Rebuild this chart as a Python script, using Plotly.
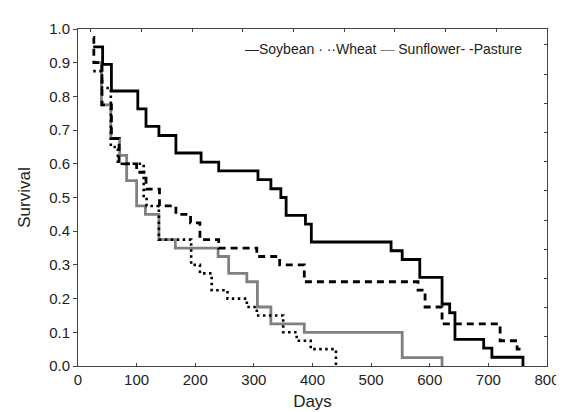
import plotly.graph_objects as go

# ---- data ----
soy_days = [26, 42, 57, 102, 116, 138, 167, 210, 240, 307, 329, 346, 355, 388, 398, 534, 553, 583, 621, 634, 643, 692, 706, 759]
soy_surv = [0.947, 0.895, 0.816, 0.763, 0.711, 0.684, 0.632, 0.605, 0.579, 0.553, 0.526, 0.500, 0.447, 0.421, 0.368, 0.342, 0.316, 0.263, 0.184, 0.158, 0.079, 0.053, 0.026, 0.0]

wheat_days = [26, 41, 56, 68, 112, 117, 138, 193, 208, 228, 255, 288, 305, 350, 373, 397, 440]
wheat_surv = [0.875, 0.825, 0.65, 0.6, 0.5, 0.475, 0.375, 0.3, 0.275, 0.225, 0.2, 0.175, 0.15, 0.1, 0.075, 0.05, 0.0]

sun_days = [26, 40, 56, 71, 83, 100, 115, 138, 166, 239, 257, 288, 306, 329, 386, 553, 621]
sun_surv = [0.9, 0.775, 0.675, 0.625, 0.55, 0.475, 0.45, 0.375, 0.35, 0.325, 0.275, 0.25, 0.175, 0.125, 0.1, 0.025, 0.0]

pas_days = [26, 27, 41, 57, 70, 100, 116, 139, 167, 192, 208, 240, 305, 344, 386, 580, 592, 621, 720, 749, 759]
pas_surv = [0.975, 0.9, 0.775, 0.675, 0.6, 0.575, 0.525, 0.475, 0.45, 0.425, 0.375, 0.35, 0.325, 0.3, 0.25, 0.225, 0.175, 0.125, 0.075, 0.05, 0.05]

x_ticks = [0, 100, 200, 300, 400, 500, 600, 700, 800]
y_ticks = [0.0, 0.1, 0.2, 0.3, 0.4, 0.5, 0.6, 0.7, 0.8, 0.9, 1.0]
# unlabeled tick marks on the top and right frame edges (as in the reference)
top_ticks = [21.7 + 86.5 * k for k in range(10)]
right_ticks = [0.0866 * k for k in range(12)]
legend_text = ("—Soybean · ··Wheat <span style='color:#808080'>—</span> Sunflower- -Pasture")

FONT = "Arial, Liberation Sans, sans-serif"
AX = "#444"

fig = go.Figure()
fig.add_trace(go.Scatter(x=sun_days, y=sun_surv, mode="lines", line_shape="hv", name="Sunflower",
                         line=dict(color="#808080", width=2.8)))
fig.add_trace(go.Scatter(x=wheat_days, y=wheat_surv, mode="lines", line_shape="hv", name="Wheat",
                         line=dict(color="black", width=2.6, dash="2.5px,3.5px")))
fig.add_trace(go.Scatter(x=pas_days, y=pas_surv, mode="lines", line_shape="hv", name="Pasture",
                         line=dict(color="black", width=2.8, dash="7px,5px")))
fig.add_trace(go.Scatter(x=soy_days, y=soy_surv, mode="lines", line_shape="hv", name="Soybean",
                         line=dict(color="black", width=2.8)))
# invisible trace to anchor the overlay tick axes
fig.add_trace(go.Scatter(x=[0], y=[0], xaxis="x2", yaxis="y2", mode="markers",
                         marker=dict(opacity=0), hoverinfo="skip", showlegend=False))

fig.update_layout(
    width=564, height=412,
    margin=dict(l=70, r=22, t=16, b=53),
    paper_bgcolor="white", plot_bgcolor="white",
    showlegend=False,
    font=dict(family=FONT, size=15, color="#222"),
    xaxis=dict(range=[0, 800], tickvals=x_ticks, ticktext=[str(v) for v in x_ticks],
               showgrid=False, zeroline=False, showline=True, linecolor=AX, linewidth=1,
               mirror=True, ticks="inside", ticklen=3, tickcolor=AX,
               tickfont=dict(size=15),
               title=dict(text="Days", font=dict(size=17), standoff=8)),
    yaxis=dict(range=[0, 1.0], tickvals=y_ticks, ticktext=[f"{v:.1f}" for v in y_ticks],
               showgrid=False, zeroline=False, showline=True, linecolor=AX, linewidth=1,
               mirror=True, ticks="outside", ticklen=4, tickcolor=AX,
               tickfont=dict(size=15),
               title=dict(text="Survival", font=dict(size=17), standoff=14)),
    xaxis2=dict(overlaying="x", side="top", range=[0, 800], tickvals=top_ticks,
                showticklabels=False, ticks="inside", ticklen=3, tickcolor=AX,
                showgrid=False, zeroline=False, showline=False),
    yaxis2=dict(overlaying="y", side="right", range=[0, 1.0], tickvals=right_ticks,
                showticklabels=False, ticks="inside", ticklen=3, tickcolor=AX,
                showgrid=False, zeroline=False, showline=False),
)

fig.add_annotation(text=legend_text, xref="paper", yref="paper", x=0.952, y=0.941,
                   xanchor="right", yanchor="middle", showarrow=False,
                   font=dict(family=FONT, size=14, color="#222"))

fig.write_html("out.html")
